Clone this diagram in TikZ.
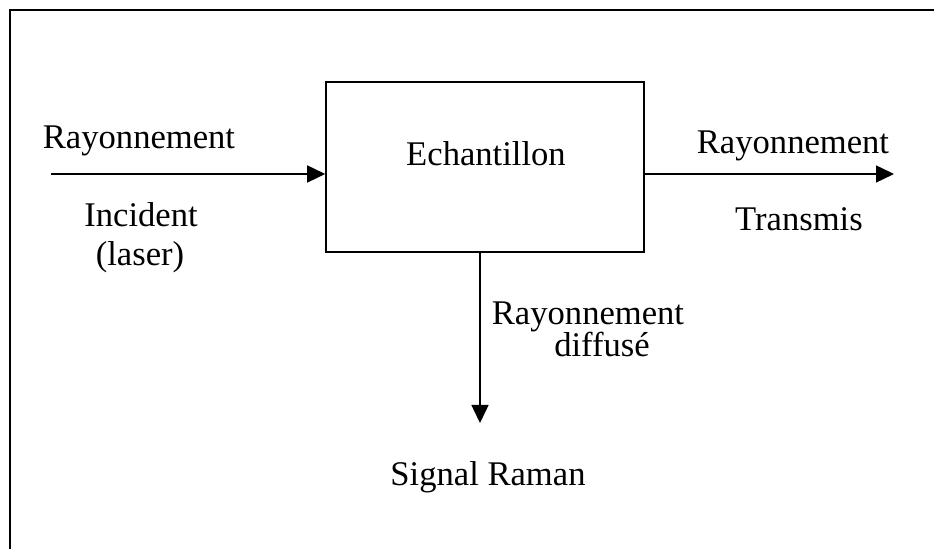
\documentclass[tikz,border=0pt]{standalone}
\usepackage{fontspec}
\setmainfont{Liberation Serif}
\usepackage{tikz}
\usetikzlibrary{arrows.meta, positioning}

\tikzset{
    texte/.style={anchor=base, inner sep=0pt, font=\fontsize{17.3pt}{20pt}\selectfont},
    boite/.style={draw, line width=0.8pt, minimum width=159pt, minimum height=85pt, inner sep=0pt},
    fleche/.style={-{Triangle[length=9pt, width=8.5pt]}, line width=0.75pt}
}

\begin{document}
\begin{tikzpicture}[x=0.5pt, y=-0.5pt]
            \useasboundingbox (0,0) rectangle (934,549);
            % Frame
            \draw[line width=1pt] (934,10.5) -- (10,10.5) -- (10,549);

            % Sample box
            \node[boite] (sample) at (485,167) {};
            \node[texte] (samplelbl) at (486,166) {Echantillon};

            % End points of the beams
            \coordinate (laser) at (51,174);
            \coordinate (trans) at (894,174);
            \coordinate (raman) at (480,423);

            % Beams
            \draw[fleche] (laser) -- (laser -| sample.west);
            \draw[fleche] (sample.east |- trans) -- (trans);
            \draw[fleche] (sample.south -| raman) -- (raman);

            % Incident beam labels
            \node[texte] (incA) at (139,149) {Rayonnement};
            \node[texte] (incB) at (141,227) {Incident};
            \node[texte] (incC) at (140,266) {(laser)};

            % Transmitted beam labels
            \node[texte] (trA) at (793,154) {Rayonnement};
            \node[texte] (trB) at (799,231) {Transmis};

            % Scattered beam labels
            \node[texte] (difA) at (588,325) {Rayonnement};
            \node[texte] (difB) at (602,357) {diffusé};
            \node[texte] (sig) at (488,486) {Signal Raman};
        \end{tikzpicture}
\end{document}
